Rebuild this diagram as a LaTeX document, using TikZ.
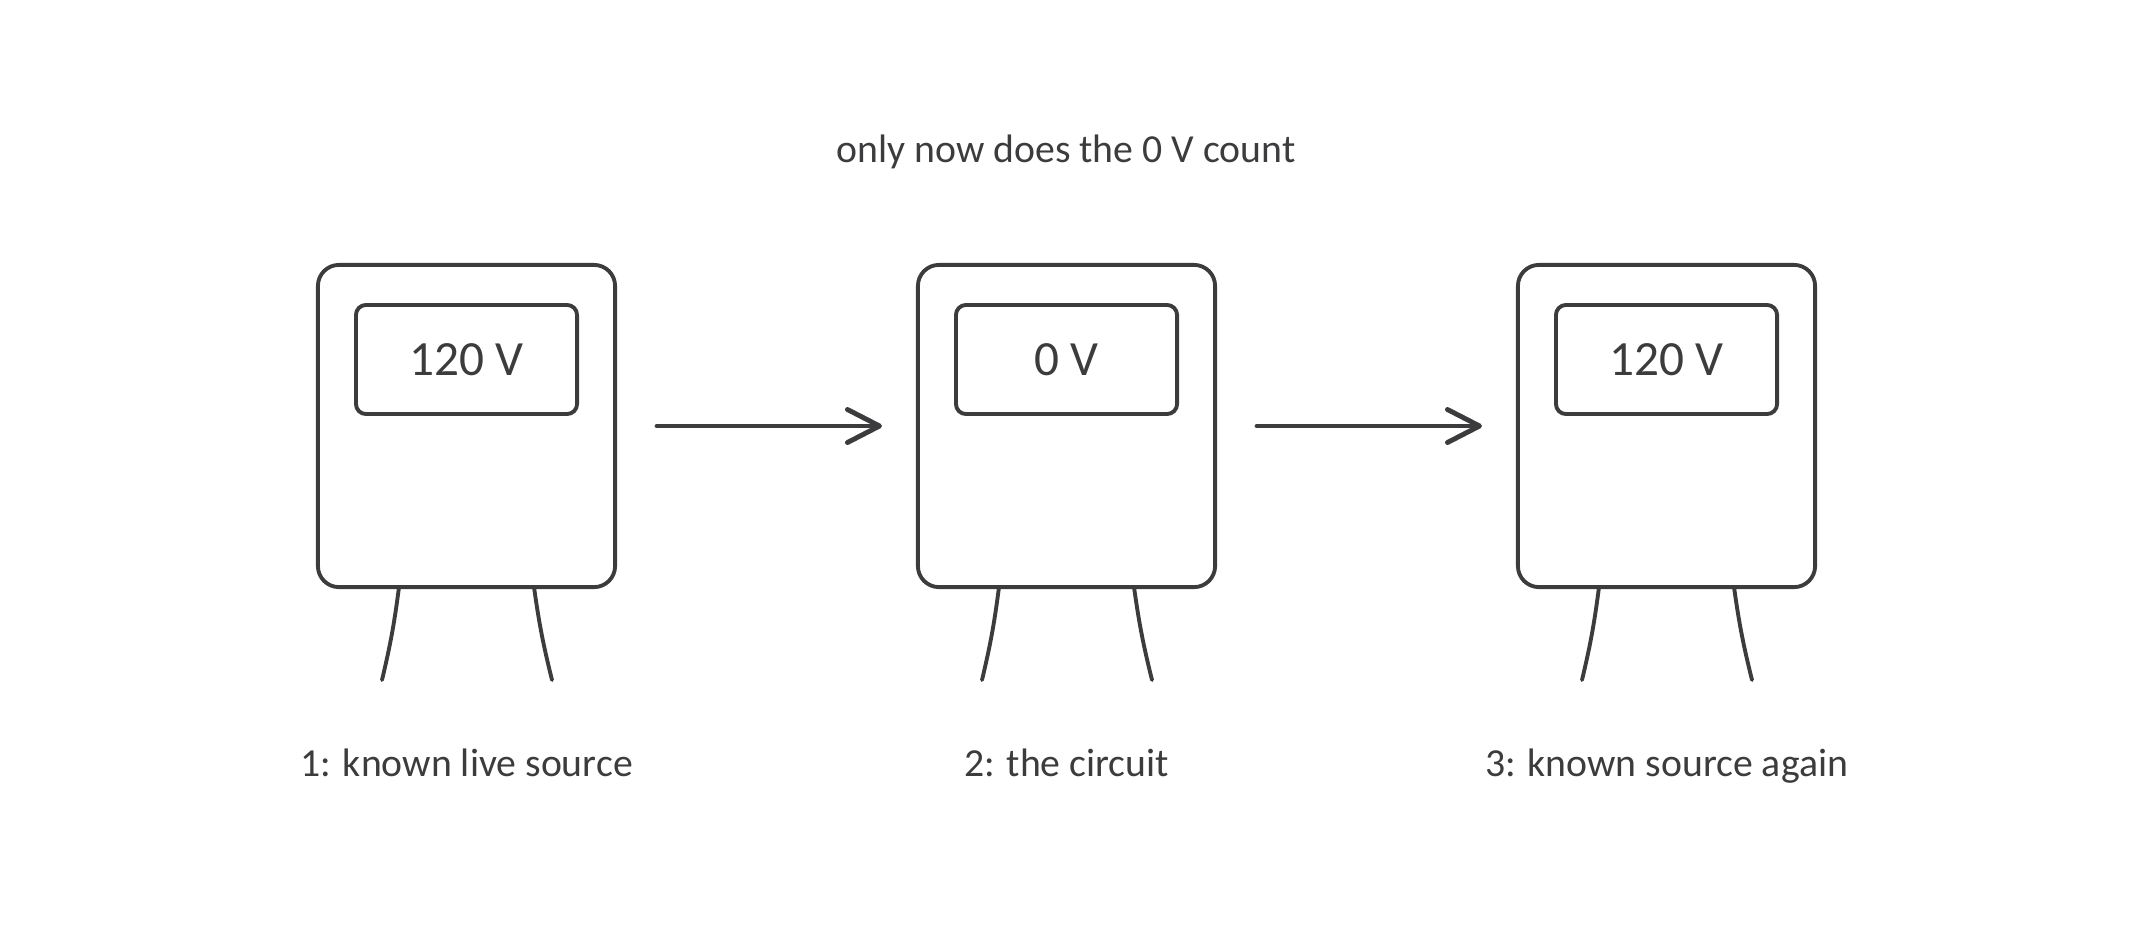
\documentclass[tikz,border=0pt]{standalone}
\usepackage{fontspec}
\setmainfont{Carlito}
\usetikzlibrary{positioning, calc, arrows.meta}
\definecolor{meterink}{rgb}{0.235, 0.235, 0.245}

\begin{document}
\begin{tikzpicture}[x=0.01cm, y=-0.01cm,
    meterbox/.style={draw=meterink, line width=1.1pt, rounded corners=0.21cm, minimum width=2.97cm, minimum height=3.22cm, inner sep=0pt},
    screen/.style={draw=meterink, line width=1.1pt, rounded corners=0.1cm, minimum width=2.21cm, minimum height=1.09cm, inner sep=0pt, text=meterink, font=\fontsize{14}{17}\selectfont},
    leg/.style={draw=meterink, line width=1.1pt, line cap=round},
    flow/.style={draw=meterink, line width=1.4pt, line cap=round, shorten <=0.4cm, shorten >=0.34cm, -{Straight Barb[length=0.32cm, width=0.33cm, round]}},
    caption/.style={text=meterink, text height=1.6ex, text depth=0.5ex, font=\fontsize{11.3}{14}\selectfont}]
    \useasboundingbox (0,0) rectangle (2133,933);

    \node (heading) [caption] at (1066,153) {only now does the 0 V count};

    % meter 1
    \node (meterA) [meterbox] at (466.5,426) {};
    \node (screenA) [screen] at (466.5,359.5) {120 V};
    \draw [leg] (399,587) to[bend left=3] (382,680);
    \draw [leg] (534,587) to[bend right=3] (552,680);
    \node (labelA) [caption] at (466.5,767) {1: known live source};

    % meter 2
    \node (meterB) [meterbox] at (1066.5,426) {};
    \node (screenB) [screen] at (1066.5,359.5) {0 V};
    \draw [leg] (999,587) to[bend left=3] (982,680);
    \draw [leg] (1134,587) to[bend right=3] (1152,680);
    \node (labelB) [caption] at (1066.5,767) {2: the circuit};

    % meter 3
    \node (meterC) [meterbox] at (1666.5,426) {};
    \node (screenC) [screen] at (1666.5,359.5) {120 V};
    \draw [leg] (1599,587) to[bend left=3] (1582,680);
    \draw [leg] (1734,587) to[bend right=3] (1752,680);
    \node (labelC) [caption] at (1666.5,767) {3: known source again};

    \draw [flow] (meterA.east) -- (meterB.west);
    \draw [flow] (meterB.east) -- (meterC.west);
\end{tikzpicture}
\end{document}
